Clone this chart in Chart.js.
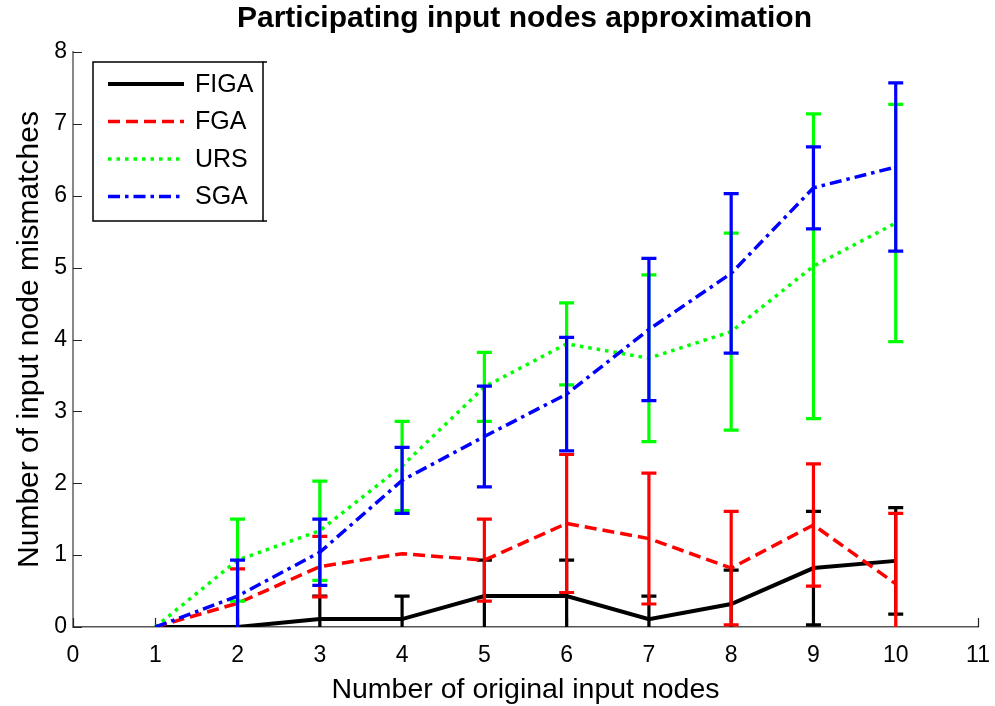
<!DOCTYPE html>
<html><head><meta charset="utf-8">
<script src="https://cdn.jsdelivr.net/npm/chart.js@4.4.1/dist/chart.umd.min.js"></script>
<style>html,body{margin:0;padding:0;background:#fff;}#wrap{width:995px;height:706px;position:relative;}</style>
</head><body><div id="wrap"><canvas id="c"></canvas></div>
<script>
const chartTitle = 'Participating input nodes approximation';
const xAxisLabel = 'Number of original input nodes';
const yAxisLabel = 'Number of input node mismatches';
const seriesNames = ['FIGA', 'FGA', 'URS', 'SGA'];
const nodes = [1, 2, 3, 4, 5, 6, 7, 8, 9, 10];
const figaMean = [0, 0, 0.11, 0.11, 0.43, 0.43, 0.11, 0.32, 0.82, 0.92];
const figaErr  = [0, 0, 0.32, 0.32, 0.50, 0.50, 0.32, 0.47, 0.79, 0.74];
const fgaMean  = [0, 0.33, 0.84, 1.02, 0.93, 1.44, 1.23, 0.82, 1.42, 0.60];
const fgaErr   = [0, 0.48, 0.42, 0, 0.57, 0.96, 0.91, 0.79, 0.85, 0.98];
const ursMean  = [0, 0.93, 1.34, 2.24, 3.34, 3.94, 3.74, 4.11, 5.02, 5.62];
const ursErr   = [0, 0.57, 0.69, 0.62, 0.48, 0.57, 1.16, 1.37, 2.12, 1.65];
const sgaMean  = [0, 0.43, 1.04, 2.04, 2.65, 3.24, 4.14, 4.92, 6.11, 6.40];
const sgaErr   = [0, 0.50, 0.46, 0.46, 0.70, 0.79, 0.99, 1.11, 0.57, 1.17];
const xTicks = [0, 1, 2, 3, 4, 5, 6, 7, 8, 9, 10, 11];
const yTicks = [0, 1, 2, 3, 4, 5, 6, 7, 8];

const FONT = "'Liberation Sans', Arial, Helvetica, sans-serif";
const styles = [
  { color: '#000000', dash: [], width: 4 },
  { color: '#ff0000', dash: [12, 6], width: 3.5 },
  { color: '#00ff00', dash: [3.5, 5], width: 3.5 },
  { color: '#0000ff', dash: [12, 5, 3.5, 5], width: 3.5 }
];
const means = [figaMean, fgaMean, ursMean, sgaMean];
const errs = [figaErr, fgaErr, ursErr, sgaErr];

const datasets = seriesNames.map((name, k) => ({
  label: name,
  data: nodes.map((x, i) => ({ x: x, y: means[k][i] })),
  errors: errs[k],
  borderColor: styles[k].color,
  backgroundColor: styles[k].color,
  borderWidth: styles[k].width,
  borderDash: styles[k].dash,
  pointRadius: 0,
  tension: 0,
  fill: false,
  order: 4 - k
}));

const errorBarPlugin = {
  id: 'errorBars',
  afterDatasetDraw(chart, args) {
    const ds = chart.data.datasets[args.index];
    const xs = chart.scales.x, ys = chart.scales.y, ctx = chart.ctx, ca = chart.chartArea;
    ctx.save();
    ctx.beginPath();
    ctx.rect(ca.left, ca.top - 10, ca.right - ca.left, ca.bottom - ca.top + 10);
    ctx.clip();
    ctx.strokeStyle = ds.borderColor;
    ctx.lineWidth = 3.2;
    ctx.setLineDash([]);
    ctx.lineCap = 'butt';
    ds.data.forEach((p, i) => {
      const e = ds.errors[i];
      if (!e) return;
      const x = xs.getPixelForValue(p.x);
      const yt = ys.getPixelForValue(p.y + e);
      const yb = ys.getPixelForValue(p.y - e);
      ctx.beginPath();
      ctx.moveTo(x, yt); ctx.lineTo(x, yb);
      ctx.moveTo(x - 7.5, yt); ctx.lineTo(x + 7.5, yt);
      ctx.moveTo(x - 7.5, yb); ctx.lineTo(x + 7.5, yb);
      ctx.stroke();
    });
    ctx.restore();
  }
};

const innerTicksPlugin = {
  id: 'innerTicks',
  beforeDatasetsDraw(chart) {
    const xs = chart.scales.x, ys = chart.scales.y, ctx = chart.ctx, ca = chart.chartArea;
    ctx.save();
    ctx.strokeStyle = '#222';
    ctx.lineWidth = 1.2;
    ctx.beginPath();
    xTicks.forEach(v => {
      const x = Math.round(xs.getPixelForValue(v)) + 0.5;
      ctx.moveTo(x, ca.bottom); ctx.lineTo(x, ca.bottom - 9);
    });
    yTicks.forEach(v => {
      const y = Math.round(ys.getPixelForValue(v)) + 0.5;
      ctx.moveTo(ca.left, y); ctx.lineTo(ca.left + 9, y);
    });
    ctx.stroke();
    ctx.restore();
  }
};

const legendPlugin = {
  id: 'boxLegend',
  afterDraw(chart) {
    const ctx = chart.ctx, ca = chart.chartArea;
    const L = ca.left + 20, T = ca.top + 10, W = 170, H = 159;
    ctx.save();
    ctx.fillStyle = '#fff';
    ctx.fillRect(L, T, W, H);
    ctx.strokeStyle = '#000';
    ctx.lineWidth = 1.5;
    ctx.strokeRect(L, T, W, H);
    ctx.beginPath();
    ctx.moveTo(L + W, T); ctx.lineTo(L + W + 4, T);
    ctx.moveTo(L + W, T + H); ctx.lineTo(L + W + 4, T + H);
    ctx.stroke();
    chart.data.datasets.forEach((ds, k) => {
      const y = T + 22 + k * 37.5;
      ctx.strokeStyle = ds.borderColor;
      ctx.lineWidth = ds.borderWidth;
      ctx.setLineDash(ds.borderDash);
      ctx.beginPath();
      ctx.moveTo(L + 15, y); ctx.lineTo(L + 91, y);
      ctx.stroke();
      ctx.setLineDash([]);
      ctx.fillStyle = '#000';
      ctx.font = '25px ' + FONT;
      ctx.textAlign = 'left';
      ctx.textBaseline = 'middle';
      ctx.fillText(ds.label, L + 102, y + 1);
    });
    ctx.restore();
  }
};

const titlePlugin = {
  id: 'topTitle',
  afterDraw(chart) {
    const ctx = chart.ctx, ca = chart.chartArea;
    ctx.save();
    ctx.fillStyle = '#000';
    ctx.font = 'bold 30px ' + FONT;
    ctx.textAlign = 'center';
    ctx.textBaseline = 'middle';
    ctx.fillText(chartTitle, (ca.left + ca.right) / 2 - 1, 19);
    ctx.restore();
  }
};

new Chart(document.getElementById('c'), {
  type: 'line',
  data: { datasets: datasets },
  options: {
    responsive: true,
    maintainAspectRatio: false,
    animation: false,
    devicePixelRatio: 1,
    layout: { padding: { top: 52, right: 17, left: 0, bottom: 0 } },
    plugins: { legend: { display: false }, title: { display: false }, tooltip: { enabled: false } },
    scales: {
      x: {
        type: 'linear', min: 0, max: 11,
        afterBuildTicks: s => { s.ticks = xTicks.map(v => ({ value: v })); },
        afterFit: s => { s.height = 79; },
        grid: { display: true, drawOnChartArea: false, drawTicks: true, tickLength: 13, tickColor: 'rgba(0,0,0,0)' },
        border: { display: true, color: '#555', width: 1.5 },
        ticks: { color: '#000', font: { family: FONT, size: 23 }, padding: 2, maxRotation: 0, autoSkip: false },
        title: { display: true, text: xAxisLabel, color: '#000', font: { family: FONT, size: 28.5, lineHeight: 1 }, padding: { top: 0, bottom: 2 } }
      },
      y: {
        type: 'linear', min: 0, max: 8,
        afterBuildTicks: s => { s.ticks = yTicks.map(v => ({ value: v })); },
        afterFit: s => { s.width = 73; },
        grid: { display: true, drawOnChartArea: false, drawTicks: false },
        border: { display: true, color: '#888', width: 2 },
        ticks: { color: '#000', font: { family: FONT, size: 23 }, padding: 6, autoSkip: false },
        title: { display: true, text: yAxisLabel, color: '#000', font: { family: FONT, size: 30, lineHeight: 1 }, padding: { top: 15, bottom: 0 } }
      }
    }
  },
  plugins: [errorBarPlugin, innerTicksPlugin, legendPlugin, titlePlugin]
});
</script>
</body></html>
